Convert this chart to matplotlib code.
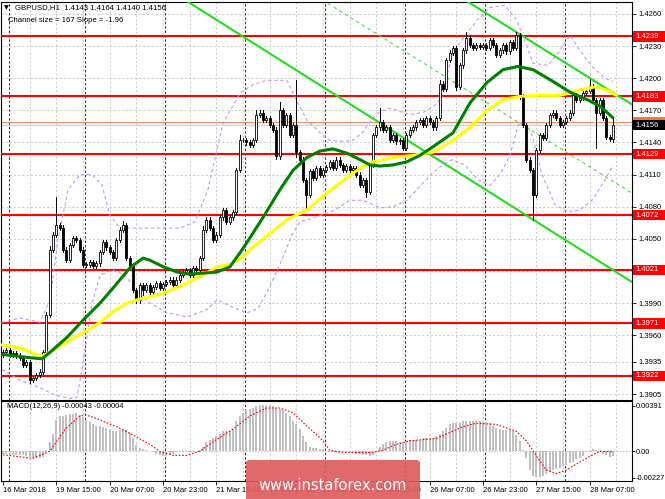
import matplotlib
matplotlib.use("Agg")
import matplotlib.pyplot as plt
from matplotlib.patches import Rectangle, FancyBboxPatch
from matplotlib.transforms import blended_transform_factory

plt.rcParams['font.family'] = ['Liberation Sans', 'DejaVu Sans']

# ---------------- data ----------------
first_open = 1.3942
closes = [
    1.3944, 1.3946, 1.3942, 1.3943, 1.3941, 1.3939, 1.3932, 1.3935, 1.3918, 1.3920, 1.3923, 1.3926, 1.3944, 1.3979, 1.4040, 1.4054,
    1.4063, 1.4060, 1.4040, 1.4030, 1.4044, 1.4051, 1.4049, 1.4040, 1.4026, 1.4026, 1.4028, 1.4025, 1.4027, 1.4038, 1.4047, 1.4042,
    1.4038, 1.4032, 1.4049, 1.4058, 1.4063, 1.4032, 1.4025, 1.4002, 1.3993, 1.4007, 1.4002, 1.4007, 1.4000, 1.4005, 1.4009, 1.4004,
    1.4008, 1.4010, 1.4012, 1.4007, 1.4012, 1.4016, 1.4019, 1.4021, 1.4016, 1.4023, 1.4021, 1.4032, 1.4058, 1.4068, 1.4060, 1.4049,
    1.4054, 1.4070, 1.4077, 1.4066, 1.4070, 1.4075, 1.4114, 1.4142, 1.4142, 1.4140, 1.4138, 1.4142, 1.4166, 1.4168, 1.4161, 1.4163,
    1.4156, 1.4152, 1.4127, 1.4170, 1.4156, 1.4166, 1.4147, 1.4156, 1.4131, 1.4124, 1.4105, 1.4091, 1.4113, 1.4107, 1.4116, 1.4110,
    1.4114, 1.4117, 1.4122, 1.4116, 1.4124, 1.4119, 1.4114, 1.4118, 1.4114, 1.4116, 1.4110, 1.4100, 1.4105, 1.4094, 1.4119, 1.4147,
    1.4154, 1.4159, 1.4152, 1.4154, 1.4142, 1.4147, 1.4141, 1.4142, 1.4135, 1.4147, 1.4152, 1.4154, 1.4159, 1.4161, 1.4156, 1.4163,
    1.4159, 1.4154, 1.4163, 1.4195, 1.4190, 1.4217, 1.4224, 1.4228, 1.4192, 1.4212, 1.4226, 1.4238, 1.4231, 1.4228, 1.4231, 1.4229,
    1.4231, 1.4228, 1.4236, 1.4231, 1.4222, 1.4226, 1.4231, 1.4225, 1.4234, 1.4228, 1.4240, 1.4183, 1.4156, 1.4124, 1.4114, 1.4091,
    1.4133, 1.4147, 1.4144, 1.4156, 1.4166, 1.4168, 1.4163, 1.4156, 1.4159, 1.4163, 1.4168, 1.4184, 1.4180, 1.4182, 1.4186, 1.4188,
    1.4193, 1.4180, 1.4168, 1.4180, 1.4163, 1.4145, 1.4143, 1.4156,
]
# wick lengths above / below the body, in pips
wick_up = [
    2, 2, 2, 2, 2, 2, 2, 2, 2, 2, 2, 2, 2, 3, 3, 2,
    26, 2, 3, 2, 2, 2, 2, 2, 2, 2, 2, 2, 2, 2, 2, 2,
    2, 2, 2, 3, 4, 2, 2, 2, 2, 2, 2, 2, 2, 2, 2, 2,
    2, 2, 2, 2, 2, 2, 2, 2, 2, 2, 2, 2, 4, 2, 2, 2,
    2, 2, 2, 2, 2, 2, 2, 5, 2, 2, 2, 2, 4, 2, 2, 2,
    2, 2, 2, 8, 2, 2, 2, 2, 42, 2, 2, 2, 2, 2, 2, 2,
    2, 2, 2, 2, 2, 2, 2, 2, 2, 2, 2, 2, 2, 2, 3, 2,
    2, 13, 2, 2, 2, 2, 2, 2, 2, 2, 2, 2, 2, 2, 2, 2,
    2, 2, 2, 3, 2, 2, 2, 2, 2, 2, 2, 5, 2, 2, 2, 2,
    2, 2, 2, 2, 2, 2, 2, 2, 2, 2, 3, 2, 2, 2, 2, 2,
    2, 2, 2, 2, 2, 2, 2, 2, 2, 2, 2, 2, 2, 2, 2, 2,
    6, 2, 2, 2, 2, 2, 2, 8,
]
wick_dn = [
    2, 2, 2, 2, 2, 2, 2, 2, 3, 2, 2, 2, 2, 2, 2, 2,
    2, 2, 2, 2, 2, 2, 2, 2, 2, 2, 2, 2, 2, 2, 2, 2,
    2, 2, 2, 2, 2, 2, 2, 2, 3, 3, 4, 2, 2, 2, 2, 2,
    2, 2, 2, 2, 2, 2, 2, 2, 2, 2, 2, 2, 2, 2, 2, 2,
    2, 2, 2, 2, 2, 2, 2, 2, 2, 2, 2, 2, 2, 2, 2, 2,
    2, 2, 2, 2, 2, 2, 2, 2, 5, 2, 2, 14, 2, 2, 2, 2,
    2, 2, 2, 2, 2, 2, 2, 2, 2, 2, 2, 2, 2, 5, 2, 2,
    2, 2, 2, 2, 2, 2, 2, 2, 2, 2, 2, 2, 2, 2, 2, 2,
    2, 2, 2, 2, 2, 2, 2, 2, 3, 2, 2, 2, 2, 2, 2, 2,
    2, 2, 2, 2, 2, 2, 2, 2, 2, 2, 2, 2, 2, 2, 2, 23,
    2, 2, 2, 2, 2, 2, 2, 2, 2, 2, 2, 2, 2, 2, 2, 2,
    2, 2, 33, 2, 2, 2, 2, 3,
]

# moving averages (bar index, price)
green_x = [-0.3, 3, 8.1, 11.7, 14.1, 19.2, 24, 29.1, 33, 38.1, 42, 44.1, 48, 52.2, 56.1, 60, 64.2, 68.1,
           71.1, 74.1, 78, 83.1, 87, 91.2, 95.1, 99, 103.2, 107.1, 110.1, 113.1, 117, 121.2, 125.1, 129,
           135, 140.1, 145.2, 150, 154.5, 159, 165, 170.1, 175.2, 179.1, 183]
green_y = [1.3942, 1.3941, 1.3939, 1.3938, 1.3944, 1.3958, 1.3974, 1.3990, 1.4004, 1.4023, 1.4032, 1.4030,
           1.4024, 1.4019, 1.4017, 1.4018, 1.4019, 1.4024, 1.4037, 1.4051, 1.4070, 1.4096, 1.4114, 1.4126,
           1.4132, 1.4134, 1.4130, 1.4124, 1.4119, 1.4118, 1.4119, 1.4122, 1.4128, 1.4136, 1.4149, 1.4177,
           1.4196, 1.4208, 1.4211, 1.4208, 1.4197, 1.4187, 1.4180, 1.4174, 1.4163]
yellow_x = [-0.3, 5.1, 11.7, 15, 19.2, 24, 29.1, 33, 37.2, 40.2, 48, 54, 60, 64.2, 68.1, 72, 74.1, 85.2,
            91.2, 97.2, 103.2, 107.1, 111, 117, 123, 129, 135, 140.1, 145.2, 150, 155.1, 160.2, 167.1,
            173.1, 177.6, 181.2, 184]
yellow_y = [1.3951, 1.3948, 1.3940, 1.3946, 1.3954, 1.3962, 1.3972, 1.3982, 1.3990, 1.3993, 1.3999, 1.4007,
            1.4016, 1.4024, 1.4026, 1.4033, 1.4040, 1.4068, 1.4077, 1.4093, 1.4107, 1.4116, 1.4122, 1.4126,
            1.4128, 1.4131, 1.4142, 1.4154, 1.4170, 1.4180, 1.4183, 1.4184, 1.4184, 1.4189, 1.4192, 1.4189,
            1.4184]

# envelope bands (bar index, price)
band_up_x = [-0.3, 5.1, 11.1, 14.1, 16.5, 19.5, 23.1, 26.7, 29.7, 32.1, 35.1, 41.1, 53.1, 57.6, 61.5, 66,
             71.1, 75, 79.2, 85.2, 87, 89.1, 91.2, 95.1, 98.1, 102, 105, 108, 111, 113.1, 116.1, 119.1,
             122.1, 126, 129, 131.1, 135, 139.2, 142.2, 146.1, 150.6, 154.2, 159, 163.5, 167.1, 170.1,
             173.1, 177, 180.6, 183]
band_up_y = [1.3972, 1.3976, 1.3972, 1.3993, 1.4049, 1.4096, 1.4110, 1.4110, 1.4100, 1.4072, 1.4060, 1.4060,
             1.4060, 1.4066, 1.4096, 1.4158, 1.4186, 1.4194, 1.4198, 1.4198, 1.4186, 1.4173, 1.4161, 1.4149,
             1.4142, 1.4141, 1.4142, 1.4150, 1.4163, 1.4169, 1.4172, 1.4169, 1.4166, 1.4168, 1.4173, 1.4180,
             1.4224, 1.4242, 1.4254, 1.4266, 1.4268, 1.4254, 1.4214, 1.4212, 1.4226, 1.4240, 1.4226, 1.4210,
             1.4200, 1.4197]
band_lo_x = [-0.3, 5.1, 11.1, 15.6, 20.1, 22.2, 23.7, 25.2, 26.7, 29.1, 32.7, 36.6, 41.1, 44.1, 49.2, 55.2,
             61.2, 64.2, 69, 73.2, 76.5, 79.5, 83.1, 86.7, 89.1, 93.6, 99.6, 104.1, 108, 113.1, 117, 121.2,
             125.1, 129, 131.1, 134.7, 138.6, 142.5, 146.1, 149.1, 152.1, 154.5, 156.6, 158.7, 161.7, 165.6,
             169.5, 173.1, 176.7, 180.6, 183]
band_lo_y = [1.3928, 1.3918, 1.3911, 1.3904, 1.3901, 1.3902, 1.3928, 1.3958, 1.3990, 1.4016, 1.4021, 1.4016,
             1.3998, 1.3990, 1.3981, 1.3977, 1.3984, 1.3993, 1.3986, 1.3981, 1.3985, 1.4002, 1.4026, 1.4054,
             1.4066, 1.4070, 1.4077, 1.4086, 1.4086, 1.4079, 1.4080, 1.4086, 1.4099, 1.4112, 1.4117, 1.4124,
             1.4119, 1.4105, 1.4100, 1.4110, 1.4128, 1.4156, 1.4161, 1.4147, 1.4110, 1.4082, 1.4075, 1.4077,
             1.4086, 1.4105, 1.4119]

# regression channel (two points per line)
chan_lo_x, chan_lo_y = [54.6, 188.7], [1.42731, 1.40097]
chan_hi_x, chan_hi_y = [138.6, 188.7], [1.42731, 1.41755]
chan_mid_x, chan_mid_y = [95.8, 188.7], [1.42731, 1.40926]

levels = [1.4239, 1.4183, 1.4129, 1.4072, 1.4021, 1.3971, 1.3922]
bid, ask = 1.4156, 1.4159
price_ticks = [1.4260, 1.4230, 1.4200, 1.4170, 1.4140, 1.4110, 1.4080, 1.4050, 1.4020, 1.3990, 1.3960, 1.3935, 1.3905]
price_ticklabels = ['1.4260', '1.4230', '1.4200', '1.4170', '1.4140', '1.4110', '1.4080', '1.4050', '',
                    '1.3990', '1.3960', '1.3935', '1.3905']

macd_hist = [
    -0.0002, -0.0002, -0.0003, -0.0003, -0.0003, -0.0003, -0.0003, -0.0004, -0.0005, -0.0006, -0.0006, -0.0006, -0.0005, 0.0001, 0.0008, 0.0015,
    0.0027, 0.0030, 0.0030, 0.0031, 0.0032, 0.0032, 0.0033, 0.0031, 0.0029, 0.0027, 0.0025, 0.0023, 0.0022, 0.0022, 0.0021, 0.0020,
    0.0019, 0.0017, 0.0017, 0.0018, 0.0019, 0.0018, 0.0016, 0.0011, 0.0005, 0.0003, 0.0002, 0.0001, 0.0000, -0.0001, -0.0002, -0.0003,
    -0.0004, -0.0004, -0.0003, -0.0002, -0.0001, -0.0001, -0.0001, -0.0001, -0.0001, -0.0001, 0.0000, 0.0001, 0.0004, 0.0008, 0.0010, 0.0011,
    0.0013, 0.0015, 0.0017, 0.0017, 0.0017, 0.0019, 0.0026, 0.0030, 0.0033, 0.0035, 0.0036, 0.0037, 0.0039, 0.0040, 0.0040, 0.0040,
    0.0040, 0.0039, 0.0037, 0.0036, 0.0035, 0.0033, 0.0030, 0.0026, 0.0023, 0.0019, 0.0013, 0.0008, 0.0004, 0.0003, 0.0003, 0.0002,
    0.0002, 0.0000, -0.0001, -0.0001, -0.0001, -0.0001, -0.0001, -0.0001, -0.0001, -0.0001, -0.0002, -0.0002, -0.0003, -0.0003, -0.0004, -0.0003,
    0.0000, 0.0004, 0.0006, 0.0008, 0.0009, 0.0009, 0.0009, 0.0008, 0.0008, 0.0009, 0.0010, 0.0010, 0.0010, 0.0010, 0.0011, 0.0011,
    0.0011, 0.0011, 0.0013, 0.0015, 0.0017, 0.0020, 0.0023, 0.0024, 0.0024, 0.0025, 0.0026, 0.0026, 0.0026, 0.0026, 0.0026, 0.0026,
    0.0025, 0.0025, 0.0024, 0.0022, 0.0020, 0.0019, 0.0018, 0.0018, 0.0018, 0.0017, 0.0014, 0.0009, 0.0001, -0.0006, -0.0016, -0.0021,
    -0.0022, -0.0022, -0.0021, -0.0019, -0.0018, -0.0016, -0.0015, -0.0014, -0.0013, -0.0012, -0.0010, -0.0009, -0.0007, -0.0006, -0.0004, -0.0001,
    0.0001, 0.0002, 0.0001, 0.0000, -0.0002, -0.0003, -0.0005, -0.0004,
]
signal_x = [0, 9, 14, 19, 23, 25, 29, 34, 39, 44, 47, 51, 55, 59, 64, 69, 74, 79, 83, 87, 91, 93, 96, 98,
            102, 111, 114, 118, 122, 126, 130, 134, 138, 142, 148, 154, 157, 160, 163, 166, 169, 172, 175,
            179, 183]
signal_y = [-0.0003, -0.0006, 0.0000, 0.0020, 0.0030, 0.0031, 0.0027, 0.0021, 0.0014, 0.0006, 0.0000,
            -0.00035, -0.00035, 0.0000, 0.0010, 0.0019, 0.0030, 0.0037, 0.0037, 0.0033, 0.0022, 0.0017,
            0.0009, 0.0001, -0.0001, -0.0001, 0.0001, 0.0006, 0.0009, 0.0010, 0.0011, 0.0016, 0.0021,
            0.0024, 0.0023, 0.0017, 0.0009, -0.0004, -0.0016, -0.0019, -0.0016, -0.0011, -0.0006, 0.0000,
            -0.00004]
macd_ticks = [0.00391, 0.0, -0.00227]
macd_ticklabels = ['0.00391', '0.00', '-0.00227']

date_ticks = [0, 16, 32, 48, 64, 80, 96, 112, 128, 144, 160, 176]
date_labels = ['16 Mar 2018', '19 Mar 15:00', '20 Mar 07:00', '20 Mar 23:00', '21 Mar 15:00',
               '22 Mar 07:00', '22 Mar 23:00', '23 Mar 15:00', '26 Mar 07:00', '26 Mar 23:00',
               '27 Mar 15:00', '28 Mar 07:00']
day_separators = [1.9, 24.5, 48.5, 72.5, 96.5, 120.5, 144.5, 168.5]

# ---------------- figure ----------------
W, H = 665, 499
fig = plt.figure(figsize=(W / 100, H / 100), dpi=100)
ax = fig.add_axes([1 / W, (H - 400) / H, 631 / W, 398 / H])
axm = fig.add_axes([1 / W, (H - 481) / H, 631 / W, 80 / H])

xlim = (-0.6, 188.7)
ax.set_xlim(*xlim)
axm.set_xlim(*xlim)
ax.set_ylim(1.38995, 1.42712)
axm.set_ylim(-0.00254, 0.0043)

grid_kw = dict(color='#c4c4c4', lw=0.6, ls=(0, (2.5, 2.5)), zorder=0.5)
sep_kw = dict(color='#303030', lw=0.7, ls=(0, (2.5, 2)), zorder=0.6)
for a in (ax, axm):
    for k in range(8, 189, 8):
        a.axvline(k, **grid_kw)
    for s in day_separators:
        a.axvline(s, **sep_kw)
    for sp in a.spines.values():
        sp.set_color('black')
        sp.set_linewidth(0.8)
for p in price_ticks:
    ax.axhline(p, **grid_kw)
axm.axhline(0, color='#b0b0b0', lw=0.6, ls=(0, (1.5, 2)), zorder=0.5)

# horizontal levels
for lv in levels:
    ax.axhline(lv, color='#ff0000', lw=1.5, zorder=3)
ax.axhline(ask, color='#f0906a', lw=0.8, zorder=2.5)
ax.axhline(bid, color='#cfcfcf', lw=0.8, zorder=2.4)

# channel
ax.plot(chan_lo_x, chan_lo_y, color='#22dd22', lw=1.5, zorder=3.2)
ax.plot(chan_hi_x, chan_hi_y, color='#22dd22', lw=1.5, zorder=3.2)
ax.plot(chan_mid_x, chan_mid_y, color='#44dd44', lw=0.8, ls=(0, (3, 3)), zorder=3.2)

# bands
band_kw = dict(color='#c596ea', lw=0.8, ls=(0, (3, 2.5)), zorder=3.1)
ax.plot(band_up_x, band_up_y, **band_kw)
ax.plot(band_lo_x, band_lo_y, **band_kw)

# candles
opens = [first_open] + closes[:-1]
for i in range(len(closes)):
    o, c = opens[i], closes[i]
    hi = max(o, c) + wick_up[i] * 1e-4
    lo = min(o, c) - wick_dn[i] * 1e-4
    ax.plot([i, i], [lo, hi], color='black', lw=0.7, zorder=4)
    bull = c >= o
    ax.add_patch(Rectangle((i - 0.32, min(o, c)), 0.64, max(abs(c - o), 0.00004),
                           facecolor='white' if bull else 'black', edgecolor='black',
                           lw=0.6, zorder=4.5))

# moving averages
ax.plot(yellow_x, yellow_y, color='#ffff00', lw=2.2, zorder=6, solid_capstyle='round')
ax.plot(green_x, green_y, color='#008000', lw=2.2, zorder=6.5, solid_capstyle='round')

# axes ticks
ax.yaxis.tick_right()
ax.set_yticks(price_ticks)
ax.set_yticklabels(price_ticklabels)
ax.tick_params(axis='y', length=3, width=0.6, pad=1.5, labelsize=5.5, direction='out')
ax.tick_params(axis='x', bottom=False, labelbottom=False)

axm.yaxis.tick_right()
axm.set_yticks(macd_ticks)
axm.set_yticklabels(macd_ticklabels)
axm.tick_params(axis='y', length=2, width=0.6, pad=0.5, labelsize=5.3, direction='out')
axm.set_xticks(date_ticks)
axm.set_xticklabels(date_labels)
axm.tick_params(axis='x', length=3, width=0.6, pad=1.5, labelsize=5.5, direction='out')
for lab in axm.get_xticklabels():
    lab.set_ha('left')

# price labels on the right
tr = blended_transform_factory(ax.transAxes, ax.transData)
bw = 34 / 631
bh = 0.00048


def price_box(val, fc, show_text=True):
    ax.add_patch(Rectangle((1.0015, val - bh), bw, 2 * bh, transform=tr, facecolor=fc,
                           edgecolor=fc, lw=0, clip_on=False, zorder=10))
    if show_text:
        ax.text(1.006, val, f'{val:.4f}', transform=tr, fontsize=5.5, color='white',
                va='center', ha='left', clip_on=False, zorder=11)


for lv in levels:
    price_box(lv, '#ff0000')
price_box(ask, '#f07848', show_text=False)
price_box(bid, '#000000')

# MACD
axm.bar(range(len(macd_hist)), macd_hist, width=0.65, color='#c0c0c0', zorder=2)
axm.plot(signal_x, signal_y, color='#ff0000', lw=0.8, ls=(0, (1.5, 1.5)), zorder=3)

# texts
fig.text(4 / W, 1 - 8 / H, '\u25bc', fontsize=4.5, va='center', ha='left', family='DejaVu Sans')
fig.text(15 / W, 1 - 8 / H, 'GBPUSD,H1  1.4143 1.4164 1.4140 1.4156', fontsize=5.6, va='center', ha='left')
fig.text(8 / W, 1 - 20 / H, 'Channel size = 167 Slope = -1.96', fontsize=5.6, va='center', ha='left')
fig.text(7 / W, 1 - 407 / H, 'MACD(12,26,9) -0.00043 -0.00004', fontsize=5.5, va='center', ha='left')

# watermark
wm = FancyBboxPatch((246 / W, -0.02), 174 / W, 49 / H, boxstyle='round,pad=0,rounding_size=0.006',
                    transform=fig.transFigure, facecolor='#de5c5c', edgecolor='none', alpha=0.92,
                    zorder=20)
fig.patches.append(wm)
fig.text(333 / W, 1 - 486 / H, 'www.instaforex.com', fontsize=10.5, color='white', va='center',
         ha='center', family='DejaVu Sans', zorder=21)

fig.savefig('out.png', dpi=100)
